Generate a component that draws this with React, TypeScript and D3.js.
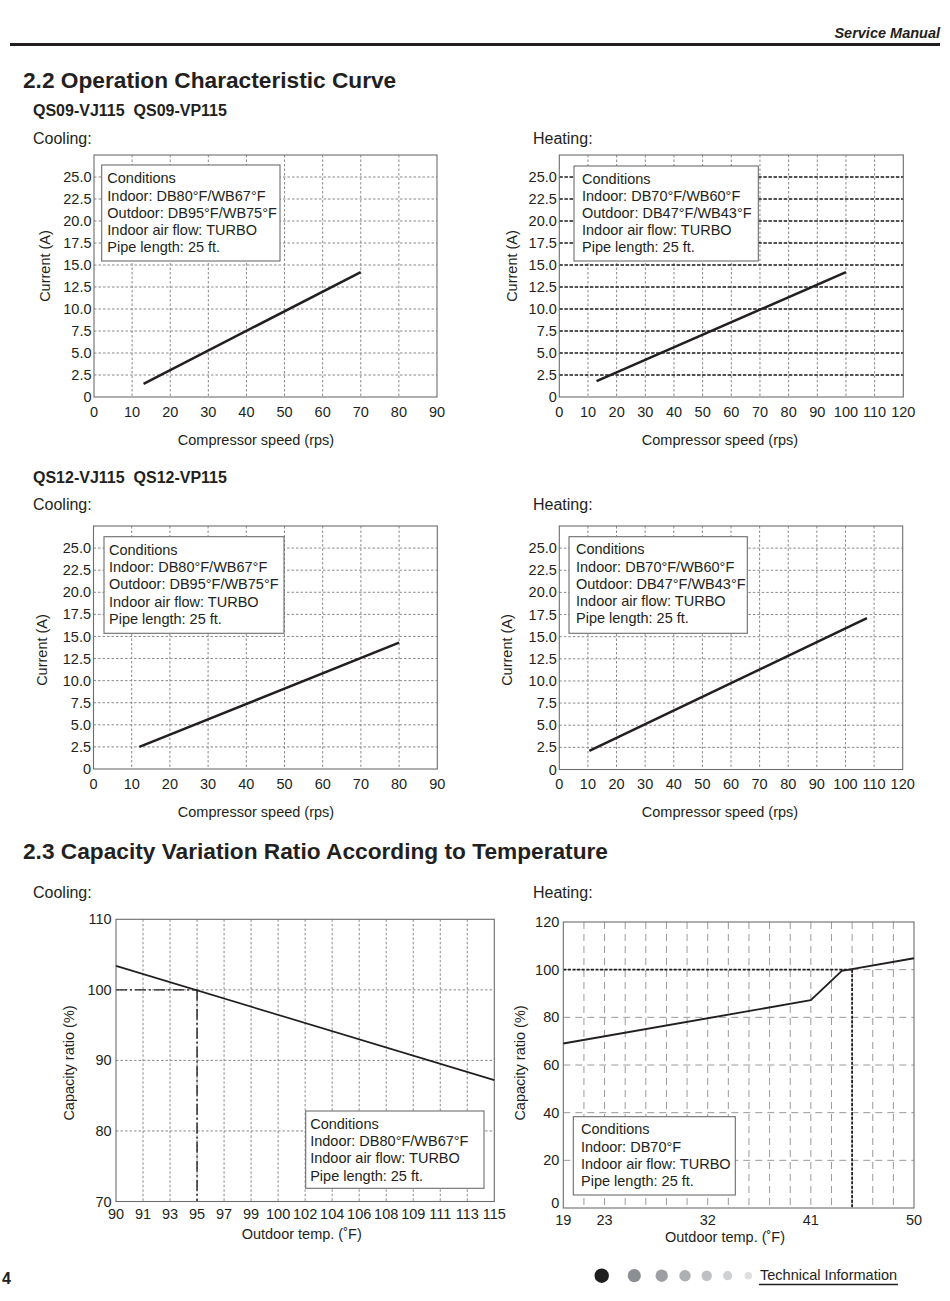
import React from 'react';
import * as d3 from 'd3';

const FONT = '"Liberation Sans", Arial, Helvetica, sans-serif';
const INK = '#231f20';

// ---------- data ----------
const currentTicks = [0, 2.5, 5, 7.5, 10, 12.5, 15, 17.5, 20, 22.5, 25];
const currentTickLabels = ['0', '2.5', '5.0', '7.5', '10.0', '12.5', '15.0', '17.5', '20.0', '22.5', '25.0'];
const speedTicks90 = [0, 10, 20, 30, 40, 50, 60, 70, 80, 90];
const speedTicks120 = [0, 10, 20, 30, 40, 50, 60, 70, 80, 90, 100, 110, 120];

const qs09CoolingSpeed = [13, 70];
const qs09CoolingCurrent = [1.5, 14.2];
const qs09HeatingSpeed = [13, 100];
const qs09HeatingCurrent = [1.8, 14.2];
const qs12CoolingSpeed = [12, 80];
const qs12CoolingCurrent = [2.5, 14.3];
const qs12HeatingSpeed = [10.5, 107.5];
const qs12HeatingCurrent = [2.1, 17.1];

// capacity – cooling (x in °C, labelled in °F)
const coolTempC = [32, 33, 34, 35, 36, 37, 38, 39, 40, 41, 42, 43, 44, 45, 46];
const coolTempF = ['90', '91', '93', '95', '97', '99', '100', '102', '104', '106', '108', '109', '111', '113', '115'];
const coolRatioTicks = [70, 80, 90, 100, 110];
const coolCurveTemp = [32, 46];
const coolCurveRatio = [103.4, 87.2];
const coolRatedTemp = 35;
const coolRatedRatio = 100;

// capacity – heating (x in °C, labelled in °F)
const heatGridC = [-7, -6, -5, -4, -3, -2, -1, 0, 1, 2, 3, 4, 5, 6, 7, 8, 9, 10];
const heatLabelC = [-7, -5, 0, 5, 10];
const heatLabelF = ['19', '23', '32', '41', '50'];
const heatRatioTicks = [0, 20, 40, 60, 80, 100, 120];
const heatCurveTemp = [-7, 5, 6.5, 10];
const heatCurveRatio = [69, 87.2, 99.5, 104.8];
const heatRatedTemp = 7;
const heatRatedRatio = 100;

const coolingConditions = ['Conditions', 'Indoor: DB80°F/WB67°F', 'Outdoor: DB95°F/WB75°F', 'Indoor air flow: TURBO', 'Pipe length: 25 ft.'];
const heatingConditions = ['Conditions', 'Indoor: DB70°F/WB60°F', 'Outdoor: DB47°F/WB43°F', 'Indoor air flow: TURBO', 'Pipe length: 25 ft.'];
const capCoolConditions = ['Conditions', 'Indoor: DB80°F/WB67°F', 'Indoor air flow: TURBO', 'Pipe length: 25 ft.'];
const capHeatConditions = ['Conditions', 'Indoor: DB70°F', 'Indoor air flow: TURBO', 'Pipe length: 25 ft.'];

const zip = (a: number[], b: number[]) => a.map((v, i) => [v, b[i]] as [number, number]);

type GS = { stroke: string; width: number; dash: string };

function Chart(p: any) {
  const x = d3.scaleLinear().domain(p.xDomain).range([p.left, p.right]);
  const y = d3.scaleLinear().domain(p.yDomain).range([p.bottom, p.top]);
  const line = d3.line<[number, number]>().x(d => x(d[0])).y(d => y(d[1]));
  const yb = y(p.yDomain[0]);
  const yt = y(p.yDomain[1]);
  const xl = x(p.xDomain[0]);
  const xr = x(p.xDomain[1]);
  const vg: GS = p.vGridStyle;
  const hg: GS = p.hGridStyle;
  const fs = 14.5;
  const lift = p.bottomTickLift || 0;
  return (
    <g>
      {p.vGrid.map((v: number, i: number) => (
        <line key={'v' + i} x1={x(v)} x2={x(v)} y1={yt} y2={yb} stroke={vg.stroke} strokeWidth={vg.width} strokeDasharray={vg.dash} />
      ))}
      {p.hGrid.map((v: number, i: number) => (
        <line key={'h' + i} x1={xl} x2={xr} y1={y(v)} y2={y(v)} stroke={hg.stroke} strokeWidth={hg.width} strokeDasharray={hg.dash} />
      ))}
      {(p.refLines || []).map((r: any, i: number) => (
        <path key={'r' + i} d={line(r.pts) || ''} fill="none" stroke={INK} strokeWidth={r.width} strokeDasharray={r.dash} />
      ))}
      <rect x={xl} y={yt} width={xr - xl} height={yb - yt} fill="none" stroke="#6d6d6d" strokeWidth={1.1} />
      <path d={line(p.series) || ''} fill="none" stroke={INK} strokeWidth={p.lineWidth} strokeLinejoin="round" />
      {p.box && (
        <g>
          <rect x={p.box.x} y={p.box.y} width={p.box.w} height={p.box.h} fill="#fff" stroke="#6d6d6d" strokeWidth={1.1} />
          {p.box.lines.map((t: string, i: number) => (
            <text key={i} x={p.box.x + p.box.pad} y={p.box.y + p.box.first + i * 17.2} dy="0.35em" fontSize={fs} fill={INK}>{t}</text>
          ))}
        </g>
      )}
      {p.yTicks.map((v: number, i: number) => (
        <text key={'yt' + i} x={xl - p.yTickGap} y={y(v) - (i === 0 ? lift : 0)} dy="0.35em" textAnchor="end" fontSize={fs} fill={INK}>{p.yTickLabels[i]}</text>
      ))}
      {p.xTicks.map((v: number, i: number) => (
        <text key={'xt' + i} x={x(v)} y={p.xTickY} textAnchor="middle" fontSize={fs} fill={INK}>{p.xTickLabels[i]}</text>
      ))}
      <text transform={`translate(${p.yLabelX},${p.yLabelY}) rotate(-90)`} dy="0.35em" textAnchor="middle" fontSize={fs} fill={INK}>{p.yLabel}</text>
      <text x={p.xLabelX} y={p.xLabelY} textAnchor="middle" fontSize={fs} fill={INK}>{p.xLabel}</text>
    </g>
  );
}

const lightGrid: GS = { stroke: '#8a8a8a', width: 1, dash: '2.5,2' };
const darkGrid: GS = { stroke: '#1a1a1a', width: 1.6, dash: '3.5,1.6' };
const longGrid: GS = { stroke: '#9a9a9a', width: 1, dash: '7,5' };

const dotX = [601.7, 634.3, 661.7, 685, 706.7, 727.7, 748.3];
const dotR = [7.2, 6.6, 6.2, 5.7, 5.2, 4.6, 3.8];
const dotFill = ['#1e1e1e', '#8b8e93', '#9c9ea2', '#adafb2', '#bfc0c2', '#cfd0d1', '#dedfe0'];

export default function App() {
  const sub = { fontSize: 16, fill: INK } as any;
  return (
    <svg width={950} height={1301} style={{ position: 'absolute', left: 0, top: 0 }} fontFamily={FONT}>
      <rect width={950} height={1301} fill="#fff" />
      <text x={940} y={38} textAnchor="end" fontSize={14.5} fontWeight="bold" fontStyle="italic" fill={INK}>Service Manual</text>
      <line x1={10} x2={940} y1={44.5} y2={44.5} stroke={INK} strokeWidth={3} />

      <text x={23} y={88} fontSize={22.7} fontWeight="bold" fill={INK}>2.2 Operation Characteristic Curve</text>
      <text x={33} y={116} fontSize={16} fontWeight="bold" fill={INK} style={{ whiteSpace: 'pre' }}>QS09-VJ115  QS09-VP115</text>
      <text x={33} y={144} {...sub}>Cooling:</text>
      <text x={533} y={144} {...sub}>Heating:</text>

      <Chart left={94} right={437} top={155} bottom={397} xDomain={[0, 90]} yDomain={[0, 27.5]}
        xTicks={speedTicks90} xTickLabels={speedTicks90.map(String)} xTickY={417}
        yTicks={currentTicks} yTickLabels={currentTickLabels} yTickGap={2.5}
        vGrid={speedTicks90.slice(1, -1)} hGrid={currentTicks.slice(1)} vGridStyle={lightGrid} hGridStyle={lightGrid}
        series={zip(qs09CoolingSpeed, qs09CoolingCurrent)} lineWidth={2.5}
        box={{ x: 101.7, y: 165, w: 178.3, h: 96, pad: 5.6, first: 13.3, lines: coolingConditions }}
        yLabel="Current (A)" yLabelX={45} yLabelY={266} xLabel="Compressor speed (rps)" xLabelX={256} xLabelY={445} />

      <Chart left={559.3} right={903.3} top={155} bottom={397} xDomain={[0, 120]} yDomain={[0, 27.5]}
        xTicks={speedTicks120} xTickLabels={speedTicks120.map(String)} xTickY={417}
        yTicks={currentTicks} yTickLabels={currentTickLabels} yTickGap={2.5}
        vGrid={speedTicks120.slice(1, -1)} hGrid={currentTicks.slice(1)} vGridStyle={lightGrid} hGridStyle={darkGrid}
        series={zip(qs09HeatingSpeed, qs09HeatingCurrent)} lineWidth={2.5}
        box={{ x: 574, y: 166, w: 184.3, h: 95, pad: 8, first: 12.5, lines: heatingConditions }}
        yLabel="Current (A)" yLabelX={511.7} yLabelY={266} xLabel="Compressor speed (rps)" xLabelX={720} xLabelY={445} />

      <text x={33} y={483} fontSize={16} fontWeight="bold" fill={INK} style={{ whiteSpace: 'pre' }}>QS12-VJ115  QS12-VP115</text>
      <text x={33} y={510} {...sub}>Cooling:</text>
      <text x={533} y={510} {...sub}>Heating:</text>

      <Chart left={93.5} right={437.3} top={526} bottom={769} xDomain={[0, 90]} yDomain={[0, 27.5]}
        xTicks={speedTicks90} xTickLabels={speedTicks90.map(String)} xTickY={789}
        yTicks={currentTicks} yTickLabels={currentTickLabels} yTickGap={2.5}
        vGrid={speedTicks90.slice(1, -1)} hGrid={currentTicks.slice(1)} vGridStyle={lightGrid} hGridStyle={lightGrid}
        series={zip(qs12CoolingSpeed, qs12CoolingCurrent)} lineWidth={2.5}
        box={{ x: 104, y: 536.7, w: 180, h: 96.6, pad: 5, first: 13.3, lines: coolingConditions }}
        yLabel="Current (A)" yLabelX={41.7} yLabelY={650} xLabel="Compressor speed (rps)" xLabelX={256} xLabelY={817} />

      <Chart left={559.3} right={902.7} top={526} bottom={769.5} xDomain={[0, 120]} yDomain={[0, 27.5]}
        xTicks={speedTicks120} xTickLabels={speedTicks120.map(String)} xTickY={789}
        yTicks={currentTicks} yTickLabels={currentTickLabels} yTickGap={2.5}
        vGrid={speedTicks120.slice(1, -1)} hGrid={currentTicks.slice(1)} vGridStyle={lightGrid} hGridStyle={lightGrid}
        series={zip(qs12HeatingSpeed, qs12HeatingCurrent)} lineWidth={2.5}
        box={{ x: 569, y: 536.7, w: 178.3, h: 96.6, pad: 7, first: 12.7, lines: heatingConditions }}
        yLabel="Current (A)" yLabelX={506.7} yLabelY={650} xLabel="Compressor speed (rps)" xLabelX={720} xLabelY={817} />

      <text x={23} y={859} fontSize={22.7} fontWeight="bold" fill={INK}>2.3 Capacity Variation Ratio According to Temperature</text>
      <text x={33} y={897.5} {...sub}>Cooling:</text>
      <text x={533} y={897.5} {...sub}>Heating:</text>

      <Chart left={116} right={494.3} top={919.3} bottom={1201.5} xDomain={[32, 46]} yDomain={[70, 110]}
        xTicks={coolTempC} xTickLabels={coolTempF} xTickY={1218.5}
        yTicks={coolRatioTicks} yTickLabels={coolRatioTicks.map(String)} yTickGap={4.3}
        vGrid={coolTempC.slice(1, -1)} hGrid={coolRatioTicks.slice(1, -1)} vGridStyle={lightGrid} hGridStyle={lightGrid}
        series={zip(coolCurveTemp, coolCurveRatio)} lineWidth={1.7}
        refLines={[
          { pts: [[coolCurveTemp[0], coolRatedRatio], [coolRatedTemp, coolRatedRatio]], dash: '11,3,2,3', width: 1.4 },
          { pts: [[coolRatedTemp, coolRatedRatio], [coolRatedTemp, 70]], dash: '11,3,2,3', width: 1.4 },
        ]}
        box={{ x: 305.7, y: 1111, w: 178.3, h: 77.3, pad: 4.5, first: 13, lines: capCoolConditions }}
        yLabel="Capacity ratio (%)" yLabelX={69.3} yLabelY={1063} xLabel="Outdoor temp. (˚F)" xLabelX={301.7} xLabelY={1238.5} />

      <Chart left={563.3} right={914} top={922} bottom={1208} xDomain={[-7, 10]} yDomain={[0, 120]}
        xTicks={heatLabelC} xTickLabels={heatLabelF} xTickY={1225}
        yTicks={heatRatioTicks} yTickLabels={heatRatioTicks.map(String)} yTickGap={4} bottomTickLift={5}
        vGrid={heatGridC.slice(1, -1)} hGrid={heatRatioTicks.slice(1, -1)} vGridStyle={longGrid} hGridStyle={longGrid}
        series={zip(heatCurveTemp, heatCurveRatio)} lineWidth={1.9}
        refLines={[
          { pts: [[heatCurveTemp[0], heatRatedRatio], [heatRatedTemp, heatRatedRatio]], dash: '3,1.6', width: 1.8 },
          { pts: [[heatRatedTemp, heatRatedRatio], [heatRatedTemp, 0]], dash: '3,1.6', width: 1.8 },
        ]}
        box={{ x: 573.3, y: 1116.7, w: 162, h: 78.3, pad: 7.7, first: 12.6, lines: capHeatConditions }}
        yLabel="Capacity ratio (%)" yLabelX={520} yLabelY={1063} xLabel="Outdoor temp. (˚F)" xLabelX={725} xLabelY={1242} />

      <text x={2} y={1283.5} fontSize={16} fontWeight="bold" fill={INK}>4</text>
      {dotX.map((cx, i) => (
        <circle key={i} cx={cx} cy={1275.7} r={dotR[i]} fill={dotFill[i]} />
      ))}
      <text x={760} y={1280} fontSize={14.5} fill={INK}>Technical Information</text>
      <line x1={759} x2={898} y1={1284.5} y2={1284.5} stroke={INK} strokeWidth={1.6} />
    </svg>
  );
}
